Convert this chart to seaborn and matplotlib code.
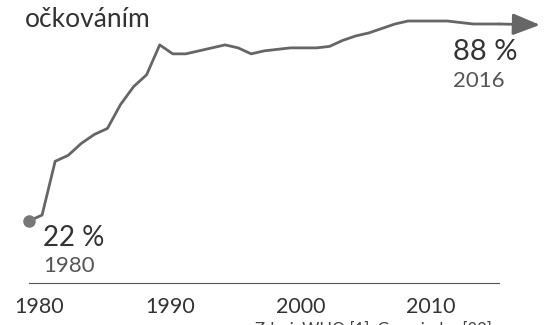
import numpy as np
import pandas as pd
import seaborn as sns
import matplotlib.pyplot as plt
from matplotlib.transforms import ScaledTranslation

sns.set_style('white')
plt.rcParams['font.family'] = ['Lato', 'DejaVu Sans']

# ## Data
years = list(range(1980, 2017))
coverage = [22, 24, 42, 44, 48, 51, 53, 61, 67, 71,
            81, 78, 78, 79, 80, 81, 80, 78, 79, 79.5,
            80, 80, 80, 80.5, 82.5, 84, 85, 86.5, 88, 89,
            89, 89, 89, 88.5, 88, 88, 88]
tick_years = [1980, 1990, 2000, 2010]
title = 'očkováním'
source = 'Zdroj: WHO [1], Gapminder [23]'

df = pd.DataFrame({'year': years, 'coverage': coverage})

line_col = '#666666'
text_col = '#333333'

# ## Graph
fig = plt.figure(figsize=(5.46, 3.25), dpi=100)
ax = fig.add_axes([0, 0, 1, 1])

sns.lineplot(data=df, x='year', y='coverage', color=line_col, lw=2.0, ax=ax)
ax.plot(years[0], coverage[0], 'o', color='#777777', ms=8, zorder=5)
ax.annotate('', xy=(2019.1, coverage[-1] - 0.3), xytext=(years[-1], coverage[-1]),
            arrowprops=dict(arrowstyle='-|>,head_length=0.83,head_width=0.33',
                            color=line_col, lw=2.0, shrinkA=0, shrinkB=0,
                            mutation_scale=20))

ax.set_xlim(1977.78, 2019.56)
ax.set_ylim(-12.84, 96.04)

for s in ['top', 'right', 'left']:
    ax.spines[s].set_visible(False)
ax.spines['bottom'].set_position(('axes', 0.129))
ax.spines['bottom'].set_bounds(1980, 2016)
ax.spines['bottom'].set_color('#555555')
ax.spines['bottom'].set_linewidth(0.8)

ax.set_yticks([])
ax.set_xticks(tick_years)
ax.set_xticklabels([str(t) for t in tick_years])
ax.tick_params(axis='x', direction='out', length=4, width=0.8, color='#555555',
               labelsize=15.5, labelcolor=text_col, pad=6)
for lab in ax.get_xticklabels():
    lab.set_transform(lab.get_transform() + ScaledTranslation(10 / 100, 0, fig.dpi_scale_trans))
ax.set_xlabel('')
ax.set_ylabel('')

# labels at the two ends
ax.text(1981.05, 13.5, '22 %', fontsize=20, color=text_col, va='baseline')
ax.text(1981.1, 4.8, '1980', fontsize=16, color='#555555', va='baseline')
ax.text(2012.45, 76.0, '88 %', fontsize=21, color=text_col, va='baseline')
ax.text(2012.45, 67.0, '2016', fontsize=16, color='#555555', va='baseline')

fig.text(25 / 546, 1 - 27 / 325, title, fontsize=19, color=text_col, va='baseline')
fig.text(255 / 546, 1 - 321 / 325, source, fontsize=12, color='#444444', va='top')

fig.savefig('out.png', dpi=100)
